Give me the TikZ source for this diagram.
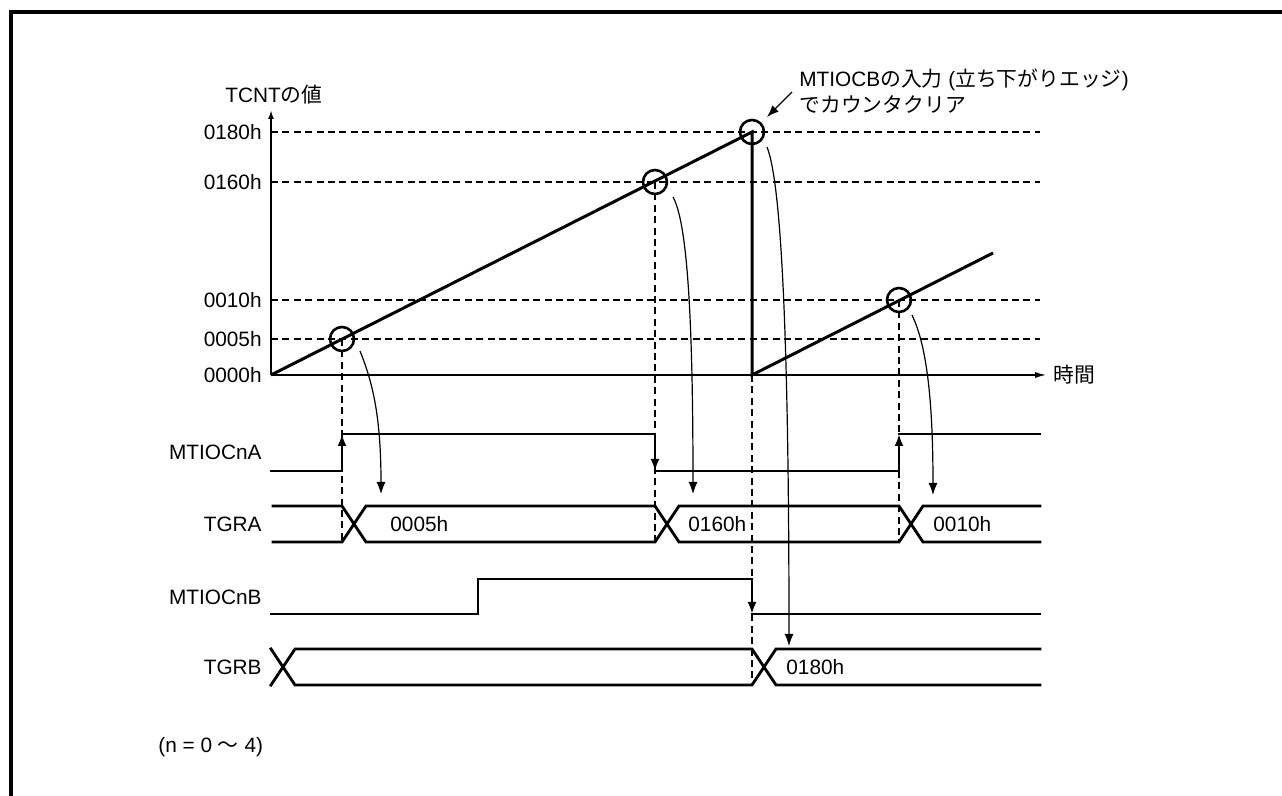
\documentclass[tikz,border=0pt]{standalone}
\usepackage{fontspec}
\setmainfont{Liberation Sans}
\newfontfamily\jp{Noto Sans CJK JP}
\usepackage{tikz}
\usetikzlibrary{arrows.meta, calc}

\begin{document}
\begin{tikzpicture}[
        x=0.5pt, y=-0.5pt,
        font=\fontsize{10.4}{13}\selectfont,
        lbl/.style={inner sep=0pt},
        axisline/.style={line width=0.9pt},
        guide/.style={line width=0.6pt, dash pattern=on 3.5pt off 2.2pt},
        ramp/.style={line width=1.5pt},
        ring/.style={circle, draw, line width=1.3pt, minimum size=12pt, inner sep=0pt},
        sigline/.style={line width=1.4pt, line cap=rect},
        edgearrow/.style={sigline, -{Latex[length=6pt, width=4.5pt]}},
        flow/.style={line width=0.6pt, -{Latex[length=6pt, width=4.5pt]}}
    ]

        \useasboundingbox (0,0) rectangle (1282,796);

        % Cadre
        \draw[line width=1.7pt] (11,796) -- (11,12) -- (1282,12);

        % Axes
        \coordinate (origin) at (271,375);
        \coordinate (ytop) at (271,110);
        \coordinate (xend) at (1047,375);
        \draw[axisline, -{Latex[length=4.5pt, width=3pt]}] (origin) -- (ytop);
        \draw[axisline, -{Latex[length=6pt, width=3pt]}] (origin) -- (xend);

        \node[lbl, anchor=west] (ylabel) at (225,95) {TCNT{\jp の値}};
        \node[lbl, anchor=west] (xlabel) at (1053,375) {\jp 時間};

        % Valeurs du compteur
        \node[lbl, anchor=east] (v180) at (262,132) {0180h};
        \node[lbl, anchor=east] (v160) at (262,182) {0160h};
        \node[lbl, anchor=east] (v010) at (262,300) {0010h};
        \node[lbl, anchor=east] (v005) at (262,339) {0005h};
        \node[lbl, anchor=east] (v000) at (262,375) {0000h};

        \draw[guide] (271,132) -- (1040,132);
        \draw[guide] (271,182) -- (1040,182);
        \draw[guide] (271,300) -- (1040,300);
        \draw[guide] (271,339) -- (1040,339);

        % Points de comparaison
        \node[ring] (c005) at (342,339) {};
        \node[ring] (c160) at (655,182) {};
        \node[ring] (c180) at (752,132) {};
        \node[ring] (c010) at (899,300) {};

        % Rampe du compteur
        \draw[ramp] (origin) -- (c180.center) -- (752,375) -- (993,253);

        % Annotation
        \node[lbl, anchor=west, align=left] (note) at (799,91)
            {MTIOCB{\jp の入力} ({\jp 立ち下がりエッジ})\\{\jp でカウンタクリア}};
        \coordinate (notetail) at (792,92);
        \draw[flow] (notetail) -- ($(c180)+(15,-15)$);

        % MTIOCnA
        \node[lbl, anchor=east] (sigA) at (262,452) {MTIOCnA};
        \draw[sigline] (271,471) -- (342,471);
        \draw[edgearrow] (342,471) -- (342,434);
        \draw[sigline] (342,434) -- (655,434);
        \draw[edgearrow] (655,434) -- (655,471);
        \draw[sigline] (655,471) -- (899,471);
        \draw[edgearrow] (899,471) -- (899,434);
        \draw[sigline] (899,434) -- (1040,434);

        % TGRA
        \node[lbl, anchor=east] (sigTA) at (262,524) {TGRA};
        \draw[sigline] (273,506) -- (342,506) -- (366,542) -- (655,542)
            -- (679,506) -- (899,506) -- (923,542) -- (1040,542);
        \draw[sigline] (273,542) -- (342,542) -- (366,506) -- (655,506)
            -- (679,542) -- (899,542) -- (923,506) -- (1040,506);
        \node[lbl, anchor=west] (tga1) at (390,524) {0005h};
        \node[lbl, anchor=west] (tga2) at (688,524) {0160h};
        \node[lbl, anchor=west] (tga3) at (933,524) {0010h};

        % MTIOCnB
        \node[lbl, anchor=east] (sigB) at (262,597) {MTIOCnB};
        \draw[sigline] (271,614) -- (478,614) -- (478,579) -- (752,579);
        \draw[edgearrow] (752,579) -- (752,614);
        \draw[sigline] (752,614) -- (1040,614);

        % TGRB
        \node[lbl, anchor=east] (sigTB) at (262,667) {TGRB};
        \draw[sigline] (271,649) -- (295,685) -- (752,685) -- (776,649) -- (1040,649);
        \draw[sigline] (271,685) -- (295,649) -- (752,649) -- (776,685) -- (1040,685);
        \node[lbl, anchor=west] (tgb1) at (786,667) {0180h};

        % Repères verticaux
        \draw[guide] (c005.center) -- (342,542);
        \draw[guide] (c160.center) -- (655,542);
        \draw[guide] (752,375) -- (752,685);
        \draw[guide] (c010.center) -- (899,542);

        % Chargement des registres
        \coordinate (s005) at ($(c005)+(18,12)$);
        \coordinate (t005) at (381,494);
        \draw[flow] (s005) .. controls +(12,30) and +(0,-80) .. (t005);

        \coordinate (s160) at ($(c160)+(18,15)$);
        \coordinate (t160) at (693,494);
        \draw[flow] (s160) .. controls +(14,25) and +(0,-180) .. (t160);

        \coordinate (s180) at ($(c180)+(15,15)$);
        \coordinate (t180) at (789,646);
        \draw[flow] (s180) .. controls +(12,30) and +(0,-350) .. (t180);

        \coordinate (s010) at ($(c010)+(13,15)$);
        \coordinate (t010) at (933,495);
        \draw[flow] (s010) .. controls +(12,25) and +(0,-110) .. (t010);

        % Plage de n
        \node[lbl, anchor=west] (range) at (158,747) {(n = 0 {\jp 〜} 4)};

    \end{tikzpicture}
\end{document}
